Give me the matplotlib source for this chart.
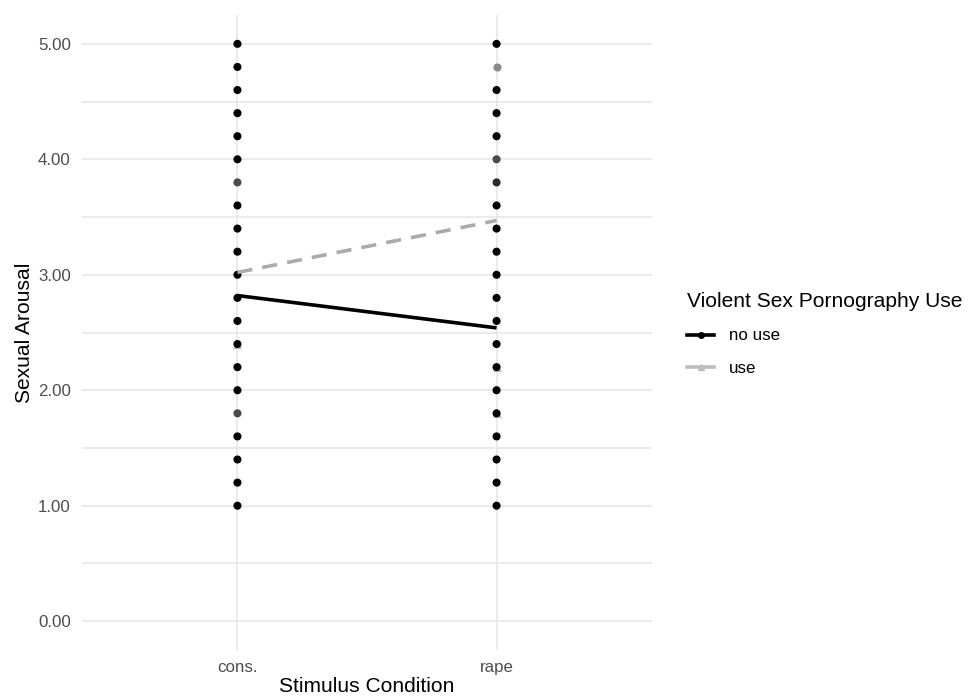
import numpy as np
import matplotlib.pyplot as plt
from matplotlib.lines import Line2D

plt.rcParams['font.family'] = ['Liberation Sans', 'DejaVu Sans']

# Data
conditions = ["cons.", "rape"]

# raw responses (no use group drawn as dots, use group as triangles underneath)
cons_nouse = [1.0, 1.2, 1.4, 1.6, 1.8, 2.0, 2.2, 2.4, 2.6, 2.8, 3.0,
              3.2, 3.4, 3.6, 3.8, 4.0, 4.2, 4.4, 4.6, 4.8, 5.0]
cons_nouse_shade = ["#000000"] * 21
cons_nouse_shade[4] = "#4a4a4a"   # 1.8
cons_nouse_shade[14] = "#4a4a4a"  # 3.8
cons_use = [2.4]

rape_nouse = [1.0, 1.2, 1.4, 1.6, 1.8, 2.0, 2.2, 2.4, 2.6, 2.8, 3.0,
              3.2, 3.4, 3.6, 3.8, 4.0, 4.2, 4.4, 4.6, 5.0]
rape_nouse_shade = ["#000000"] * 20
rape_nouse_shade[14] = "#2a2a2a"  # 3.8
rape_nouse_shade[15] = "#4a4a4a"  # 4.0
rape_use = [1.8, 2.2]
rape_use_only = [4.8]

# group means
mean_nouse = [2.82, 2.54]
mean_use = [3.02, 3.47]

fig = plt.figure(figsize=(9.69, 6.97), dpi=100)
ax = fig.add_axes([0.0846, 0.0674, 0.5883, 0.9111])

xpos = np.arange(len(conditions))

grid_c = "#e6e6e6"
for y in np.arange(0, 5.01, 0.5):
    ax.axhline(y, color=grid_c, lw=1.1, zorder=0)
for x in xpos:
    ax.axvline(x, color=grid_c, lw=1.1, zorder=0)

# use triangles
ax.scatter([0] * len(cons_use), cons_use, marker="^", s=44, color="#bdbdbd", zorder=2, linewidths=0)
ax.scatter([1] * len(rape_use), rape_use, marker="^", s=44, color="#bdbdbd", zorder=2, linewidths=0)
# no use dots
ax.scatter([0] * len(cons_nouse), cons_nouse, s=34, color=cons_nouse_shade, zorder=3, linewidths=0)
ax.scatter([1] * len(rape_nouse), rape_nouse, s=34, color=rape_nouse_shade, zorder=3, linewidths=0)
ax.scatter([1] * len(rape_use_only), rape_use_only, s=34, color="#8a8a8a", zorder=3, linewidths=0)

ax.plot(xpos, mean_nouse, color="black", lw=2.6, zorder=4, solid_capstyle="butt")
ax.plot(xpos, mean_use, color="#ababab", lw=2.6, zorder=4, dashes=(4.2, 2.8))

ax.set_xlim(-0.6, 1.6)
ax.set_ylim(-0.25, 5.25)
ax.set_xticks(xpos)
ax.set_xticklabels(conditions)
ax.set_yticks([0, 1, 2, 3, 4, 5])
ax.set_yticklabels(["0.00", "1.00", "2.00", "3.00", "4.00", "5.00"])
ax.tick_params(length=0, labelsize=12.2, labelcolor="#4d4d4d")
ax.tick_params(axis="y", pad=8)
ax.tick_params(axis="x", pad=7)
for s in ax.spines.values():
    s.set_visible(False)

ax.set_xlabel("Stimulus Condition", fontsize=15.1, labelpad=1.5)
ax.set_ylabel("Sexual Arousal", fontsize=15.1, labelpad=3)

handles = [
    Line2D([], [], color="black", lw=2.6, marker="o", markersize=4),
    Line2D([], [], color="#bdbdbd", lw=2.6, marker="^", markersize=4),
]
leg = fig.legend(handles, ["no use", "use"], title="Violent Sex Pornography Use",
                 loc="upper left", bbox_to_anchor=(0.6955, 0.601), frameon=False,
                 fontsize=12.2, title_fontsize=15.1, handlelength=1.55, handletextpad=0.9,
                 labelspacing=1.05, alignment="left", borderpad=0.3)

fig.savefig("out.png", dpi=100)
